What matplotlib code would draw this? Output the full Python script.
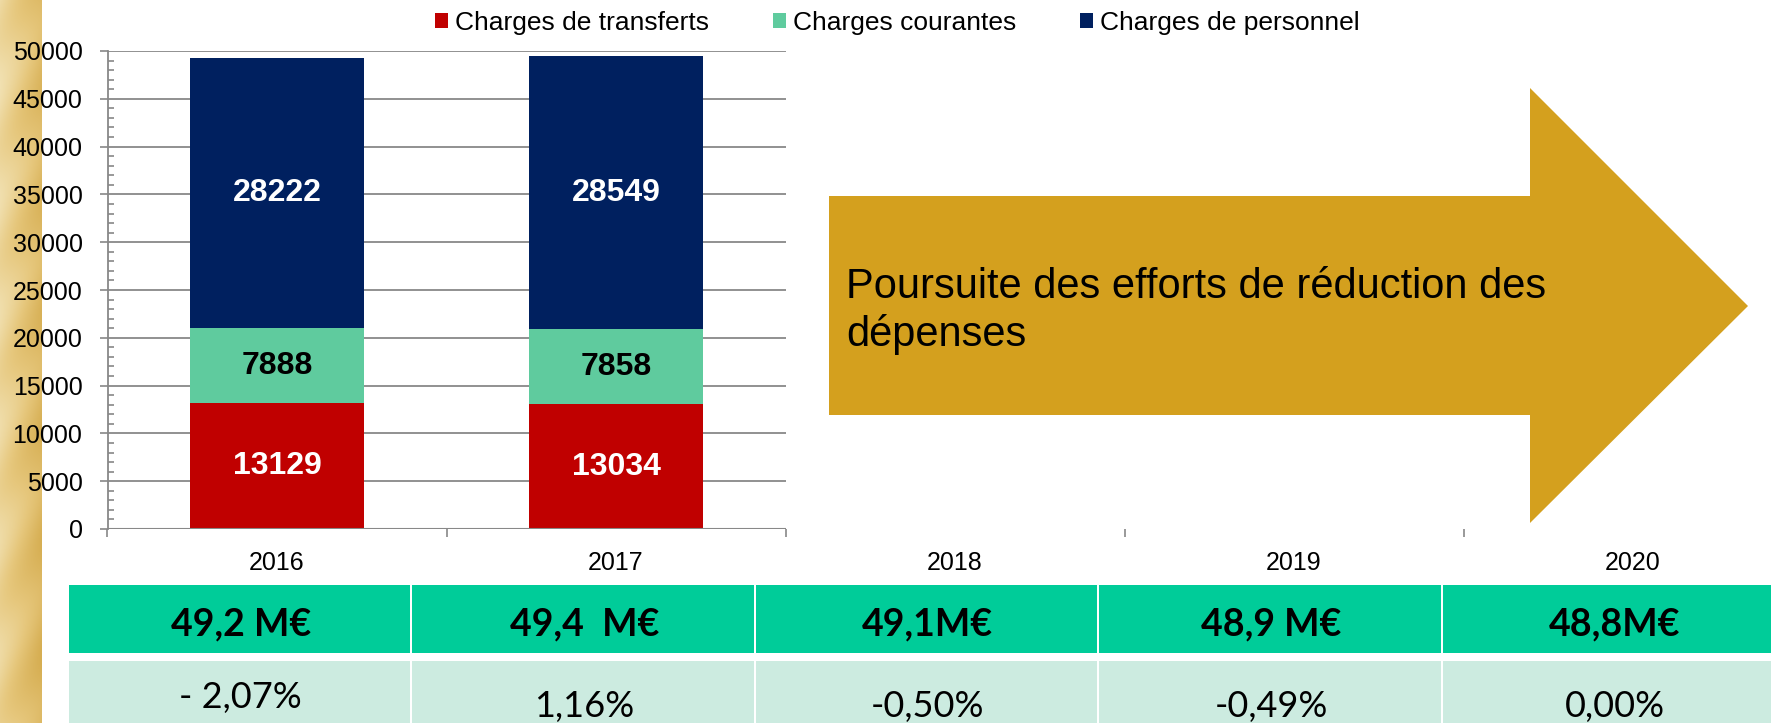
import matplotlib
matplotlib.use('Agg')
import matplotlib.pyplot as plt
from matplotlib.patches import Rectangle, Polygon
from matplotlib.colors import LinearSegmentedColormap
from matplotlib.ticker import MultipleLocator
import numpy as np

# data
years = ['2016', '2017', '2018', '2019', '2020']
bar_years = ['2016', '2017']
transferts = [13129, 13034]
courantes = [7888, 7858]
personnel = [28222, 28549]
series_names = ['Charges de transferts', 'Charges courantes', 'Charges de personnel']
series_colors = ['#C00000', '#5FCB9E', '#00205F']
label_colors = ['white', 'black', 'white']
totals_text = ['49,2 M€', '49,4  M€', '49,1M€', '48,9 M€', '48,8M€']
evolution_text = ['- 2,07%', '1,16%', '-0,50%', '-0,49%', '0,00%']
arrow_text = 'Poursuite des efforts de réduction des\ndépenses'

W, H = 1771, 723
plt.rcParams['font.family'] = ['Liberation Sans', 'DejaVu Sans']

fig = plt.figure(figsize=(W / 100, H / 100), dpi=100)
fig.patch.set_facecolor('white')

# a. background layer, in pixel coordinates
bg = fig.add_axes([0, 0, 1, 1], zorder=0)
bg.set_xlim(0, W)
bg.set_ylim(H, 0)
bg.axis('off')

# golden strip on the left edge
gold = LinearSegmentedColormap.from_list('gold', ['#F1E0B0', '#E6C77C', '#D6AE52'])
gx = np.linspace(0, 1, 42)[None, :]
gy = np.linspace(0, 1, H)[:, None]
tex = 0.6 * gx + 0.25 * (1 + np.sin(gy * 40 + gx * 3)) / 2 + 0.15 * gy
bg.imshow(tex, cmap=gold, extent=[0, 42, H, 0], aspect='auto', zorder=0)

# the big arrow
arrow = Polygon([(829, 196), (1530, 196), (1530, 88), (1748, 306),
                 (1530, 523), (1530, 415), (829, 415)],
                closed=True, facecolor='#D4A01E', edgecolor='none', zorder=1)
bg.add_patch(arrow)
bg.text(846, 311, arrow_text, fontsize=30, va='center', ha='left',
        linespacing=1.22, color='black', zorder=2)

# table below the chart
col_w = 343.5
for k in range(len(years)):
    x0 = 69 + k * col_w
    bg.add_patch(Rectangle((x0, 585), col_w - 2, 68, facecolor='#00CC99',
                           edgecolor='none', zorder=1))
    bg.add_patch(Rectangle((x0, 661), col_w - 2, 70, facecolor='#CCEBE0',
                           edgecolor='none', zorder=1))
    bg.text(x0 + col_w / 2, 635, totals_text[k], fontsize=27, fontweight='bold',
            family=['Lato', 'DejaVu Sans'], ha='center', va='baseline', zorder=2)
    base = 708 if k == 0 else 717
    bg.text(x0 + col_w / 2, base, evolution_text[k], fontsize=26,
            family=['Lato', 'DejaVu Sans'], ha='center', va='baseline', zorder=2)

# b. the stacked bar chart
ax = fig.add_axes([107.5 / W, (H - 529) / H, 339 * 5 / W, 478 / H], zorder=1)
ax.patch.set_alpha(0)
x = np.arange(len(bar_years))
bottom = np.zeros(len(bar_years))
handles = []
for vals, name, col, lcol in zip([transferts, courantes, personnel],
                                 series_names, series_colors, label_colors):
    bc = ax.bar(x, vals, width=0.513, bottom=bottom, color=col, label=name, zorder=2)
    ax.bar_label(bc, label_type='center', color=lcol, fontsize=23, fontweight='bold')
    bottom += np.array(vals)
    handles.append(bc)

ax.set_xlim(-0.5, len(years) - 0.5)
ax.set_ylim(0, 50000)
ax.hlines(np.arange(5000, 50001, 5000), -0.5, 1.5, color='#888888', lw=1.3, zorder=0)
ax.hlines(0, -0.5, 1.5, color='#888888', lw=1.5, zorder=3)

for s in ['top', 'right', 'bottom']:
    ax.spines[s].set_visible(False)
ax.spines['left'].set_color('#888888')
ax.spines['left'].set_linewidth(1.3)

ax.yaxis.set_major_locator(MultipleLocator(5000))
ax.yaxis.set_minor_locator(MultipleLocator(1000))
ax.tick_params(axis='y', which='major', direction='out', length=6, width=1.2,
               color='#888888', labelsize=18, pad=12)
ax.tick_params(axis='y', which='minor', direction='in', length=4.5, width=1.2,
               color='#888888')

ax.set_xticks(range(len(years)))
ax.set_xticklabels(years)
ax.set_xticks(np.arange(-0.5, len(years) - 1, 1), minor=True)
ax.tick_params(axis='x', which='major', length=0, labelsize=18, pad=16)
ax.tick_params(axis='x', which='minor', direction='out', length=6, width=1.2,
               color='#888888')

# c. legend on top
fig.legend(handles, series_names, loc='center left', bbox_to_anchor=(435 / W, 1 - 23 / H),
           ncol=3, frameon=False, fontsize=19, handlelength=0.5, handleheight=0.5,
           handletextpad=0.27, columnspacing=2.4, borderpad=0, borderaxespad=0)

fig.savefig('out.png', dpi=100, facecolor='white')
